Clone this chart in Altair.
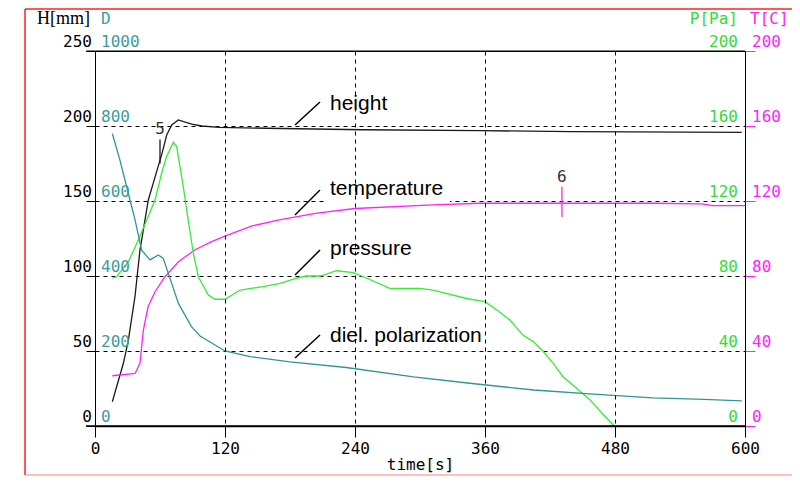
import altair as alt
import pandas as pd

# ---------------- data ----------------
time_height = [16, 26.2, 30.8, 36.9, 41.5, 49.2, 56.9, 61.5, 66.2, 70.8, 76.9, 89.2, 98.5,
               115, 158, 247, 355, 440, 597]
height_mm = [16.2, 41.8, 57.3, 86.2, 117.3, 150.7, 169.6, 180.7, 194, 200.7, 204, 201.3, 200,
             199.1, 198.5, 197.5, 196.9, 196.2, 195.8]

time_temp = [16, 37, 41.5, 44.6, 49, 55.4, 64.6, 77, 92, 107.7, 120, 145, 170, 205, 240,
             312, 355, 429, 515, 560, 570, 600]
temp_c = [26.8, 28, 33.4, 51, 63.6, 71.6, 79.6, 87.6, 93.9, 98.3, 101.3, 106.7, 109.9, 113.5,
          116, 117.9, 118.8, 118.8, 118.8, 118.5, 117.5, 117.5]

time_pres = [16, 20, 30.8, 40, 49, 55.4, 61.5, 66, 72.3, 75.4, 81.5, 86, 90.8, 95.4, 104.6,
             110.8, 120, 134, 155, 171, 186, 195, 208, 223, 238.5, 251, 272, 300, 312, 343,
             360, 371, 383, 395, 404.6, 414, 423, 432, 444.6, 457, 468, 478.5, 480]
pres_pa = [78.8, 79.6, 87.6, 99.2, 111.6, 120.5, 134.8, 143.6, 151.3, 149, 127.6, 109.9, 92,
           79.6, 69.9, 67.6, 67.6, 72.5, 74.3, 76.1, 78.8, 80, 80, 82.8, 81.8, 78.8, 73.4,
           73.4, 72.5, 68, 66.3, 61.9, 56.5, 48.5, 45, 39.6, 33.4, 26.3, 20.1, 13.9, 6.8, 0.5, 0]

time_diel = [16, 23, 30.8, 37, 43, 50.8, 58.5, 63, 67.7, 77, 89, 97, 120, 143, 180, 232,
             294, 346, 405, 460, 515, 562, 597]
diel_d = [780, 709, 620, 549, 469, 443, 456, 447, 407, 327, 265, 240, 200, 185, 171, 156,
          131, 114, 96, 85, 75, 71, 67]

X_TICKS = [0, 120, 240, 360, 480, 600]
H_TICKS = [0, 50, 100, 150, 200, 250]
D_TICKS = [0, 200, 400, 600, 800, 1000]
P_TICKS = [0, 40, 80, 120, 160, 200]
T_TICKS = [0, 40, 80, 120, 160, 200]

ann_label = ["height", "temperature", "pressure", "diel. polarization"]
ann_baseline = [210.7, 154, 114, 56]
ann_lead_y1 = [200.7, 140.7, 100.7, 45.3]
ann_lead_y2 = [216, 157.3, 117.3, 60.7]
ann_width_px = [57, 115, 85, 152]

marker_label = ["5", "6"]
marker_t = [60, 431]
marker_y1 = [175, 139.3]
marker_y2 = [191, 159.3]
marker_label_y = [198, 166]

# ---------------- styling ----------------
BLACK = "#1a1a1a"
MAGENTA = "#ff22ff"
GREEN = "#33ee33"
TEAL = "#2e9696"
TEAL_T = "#3a9c9c"
GREEN_T = "#33dd33"
MONO = "DejaVu Sans Mono"
SANS = "Liberation Sans"
PX = 600 / 650.0  # seconds per pixel
W, H = 650, 375

# factors to H[mm] scale (all axes share the same relative scale)
D_F, P_F, T_F = 4.0, 0.8, 0.8

rows = []
for name, ts, vs, f in [("height", time_height, height_mm, 1.0),
                        ("temperature", time_temp, temp_c, T_F),
                        ("pressure", time_pres, pres_pa, P_F),
                        ("diel", time_diel, diel_d, D_F)]:
    for i, (t, v) in enumerate(zip(ts, vs)):
        rows.append({"t": t, "y": v / f, "s": name, "i": i})
lines_df = pd.DataFrame(rows)

xs = alt.Scale(domain=[0, 600], nice=False, zero=False)
ys = alt.Scale(domain=[0, 250], nice=False, zero=False)

x_axis = alt.Axis(values=X_TICKS, grid=True, gridColor="black", gridDash=[4, 4], gridWidth=1,
                  gridOpacity=1, domain=True, domainColor="black", domainWidth=1.5,
                  domainOpacity=1, ticks=True, tickColor="black", tickSize=11,
                  labelFont=MONO, labelFontSize=16, labelColor="black", labelPadding=3,
                  labelFlush=False, title="time[s]", titleFont=MONO, titleFontSize=16,
                  titleFontWeight="normal", titleColor="black", titlePadding=0, zindex=1)
y_axis = alt.Axis(values=H_TICKS, grid=True, gridColor="black", gridDash=[4, 4], gridWidth=1,
                  gridOpacity=1, domain=False, ticks=True, tickColor="black", tickSize=9,
                  labels=False, title=None, zindex=0)
y_axis_right = alt.Axis(orient="right", values=H_TICKS, grid=False, domain=False, ticks=True,
                        tickColor=MAGENTA, tickSize=10, labels=False, title=None)

lines = alt.Chart(lines_df).mark_line(strokeWidth=1.3).encode(
    x=alt.X("t:Q", scale=xs, axis=x_axis),
    y=alt.Y("y:Q", scale=ys, axis=y_axis),
    color=alt.Color("s:N", scale=alt.Scale(domain=["height", "temperature", "pressure", "diel"],
                                           range=[BLACK, MAGENTA, GREEN, TEAL]), legend=None),
    order="i:Q",
)

# solid frame of the plot area (bottom line reaches the left tick length)
frame_df = pd.DataFrame({"a": [0]})
plot_bottom = alt.Chart(frame_df).mark_rule(color="black", strokeWidth=1.5).encode(
    x=alt.value(-9), x2=alt.value(W),
    y=alt.YDatum(0, type="quantitative", scale=ys, axis=None),
)
plot_top = alt.Chart(frame_df).mark_rule(color="black", strokeWidth=1).encode(
    x=alt.value(-9), x2=alt.value(W),
    y=alt.YDatum(250, type="quantitative", scale=ys, axis=None),
)

# annotation boxes, leaders, texts
text_t0 = 235 * PX  # x of label start
ann_df = pd.DataFrame({
    "label": ann_label,
    "base": ann_baseline,
    "ly1": ann_lead_y1,
    "ly2": ann_lead_y2,
    "lx1": [200 * PX] * 4,
    "lx2": [225 * PX] * 4,
    "tx": [text_t0] * 4,
    "bx1": [text_t0 - 3 * PX] * 4,
    "bx2": [text_t0 + (w + 5) * PX for w in ann_width_px],
    "by1": [b - 8 / 1.5 for b in ann_baseline],
    "by2": [b + 19 / 1.5 for b in ann_baseline],
})

boxes = alt.Chart(ann_df).mark_rect(color="white").encode(
    x=alt.X("bx1:Q", scale=xs, axis=None), x2="bx2:Q",
    y=alt.Y("by1:Q", scale=ys, axis=None), y2="by2:Q",
)
leaders = alt.Chart(ann_df).mark_rule(color="black", strokeWidth=1.5).encode(
    x=alt.X("lx1:Q", scale=xs, axis=None), x2="lx2:Q",
    y=alt.Y("ly1:Q", scale=ys, axis=None), y2="ly2:Q",
)
ann_text = alt.Chart(ann_df).mark_text(align="left", baseline="alphabetic", font=SANS,
                                       fontSize=21, color="black").encode(
    x=alt.X("tx:Q", scale=xs, axis=None),
    y=alt.Y("base:Q", scale=ys, axis=None),
    text="label:N",
)

mk_df = pd.DataFrame({"lab": marker_label, "t": marker_t, "y1": marker_y1,
                      "y2": marker_y2, "ly": marker_label_y, "c": [BLACK, MAGENTA]})
mk_rules = alt.Chart(mk_df).mark_rule(strokeWidth=1.3).encode(
    x=alt.X("t:Q", scale=xs, axis=None),
    y=alt.Y("y1:Q", scale=ys, axis=None), y2="y2:Q",
    color=alt.Color("c:N", scale=None),
)
mk_text = alt.Chart(mk_df).mark_text(font=MONO, fontSize=16, color="#333333",
                                     baseline="middle").encode(
    x=alt.X("t:Q", scale=xs, axis=None),
    y=alt.Y("ly:Q", scale=ys, axis=None),
    text="lab:N",
)

# tick labels
tick_df = pd.DataFrame({
    "v": H_TICKS,
    "h": [str(v) for v in H_TICKS],
    "d": [str(v) for v in D_TICKS],
    "p": [str(v) for v in P_TICKS],
    "tc": [str(v) for v in T_TICKS],
})


def tick_layer(col, xval, align, dx, color, axis=None):
    return alt.Chart(tick_df).mark_text(align=align, baseline="alphabetic", dx=dx, dy=-4,
                                        font=MONO, fontSize=16, color=color).encode(
        x=alt.XDatum(xval, type="quantitative", scale=xs, axis=None),
        y=alt.Y("v:Q", scale=ys, axis=axis),
        text=f"{col}:N",
    )


lab_h = tick_layer("h", 0, "right", -3, "black")
lab_d = tick_layer("d", 0, "left", 6, TEAL_T)
lab_p = tick_layer("p", 600, "right", -7, GREEN_T)
lab_t = tick_layer("tc", 600, "left", 7, MAGENTA, axis=y_axis_right)

# axis titles
title_df = pd.DataFrame({"txt": ["x"]})


def title_layer(txt, xval, align, dx, color, font, size):
    return alt.Chart(title_df).mark_text(align=align, baseline="alphabetic", dx=dx, dy=-27,
                                         font=font, fontSize=size, color=color, text=txt).encode(
        x=alt.XDatum(xval, type="quantitative", scale=xs, axis=None),
        y=alt.YDatum(250, type="quantitative", scale=ys, axis=None),
    )


t_h = title_layer("H[mm]", 0, "right", -5, "black", "Liberation Serif", 18)
t_d = title_layer("D", 0, "left", 6, TEAL_T, MONO, 16)
t_p = title_layer("P[Pa]", 600, "right", -7, GREEN_T, MONO, 16)
t_t = title_layer("T[C]", 600, "left", 5, MAGENTA, MONO, 16)

# red frame of the original window
frame_l = alt.Chart(frame_df).mark_rule(color="#ff2020", strokeWidth=1.5).encode(
    x=alt.value(-70), y=alt.value(-42), y2=alt.value(424))
frame_t = alt.Chart(frame_df).mark_rule(color="#ff2020", strokeWidth=1.5).encode(
    x=alt.value(-70), x2=alt.value(700), y=alt.value(-42))
frame_b = alt.Chart(frame_df).mark_rule(color="#ffaaaa", strokeWidth=1.5).encode(
    x=alt.value(-70), x2=alt.value(700), y=alt.value(424))

chart = alt.layer(
    lines, boxes, leaders, ann_text, mk_rules, mk_text,
    lab_h, lab_d, lab_p, lab_t, t_h, t_d, t_p, t_t,
    frame_l, frame_t, frame_b, plot_bottom, plot_top,
).resolve_axis(x="independent", y="independent").properties(
    width=W, height=H,
    autosize=alt.AutoSizeParams(type="none"),
    padding={"left": 87, "top": 43, "right": 47, "bottom": 50},
    background="white",
).configure_view(stroke="black", strokeWidth=1)

chart.save("out.html", embed_options={"renderer": "svg", "actions": False})
